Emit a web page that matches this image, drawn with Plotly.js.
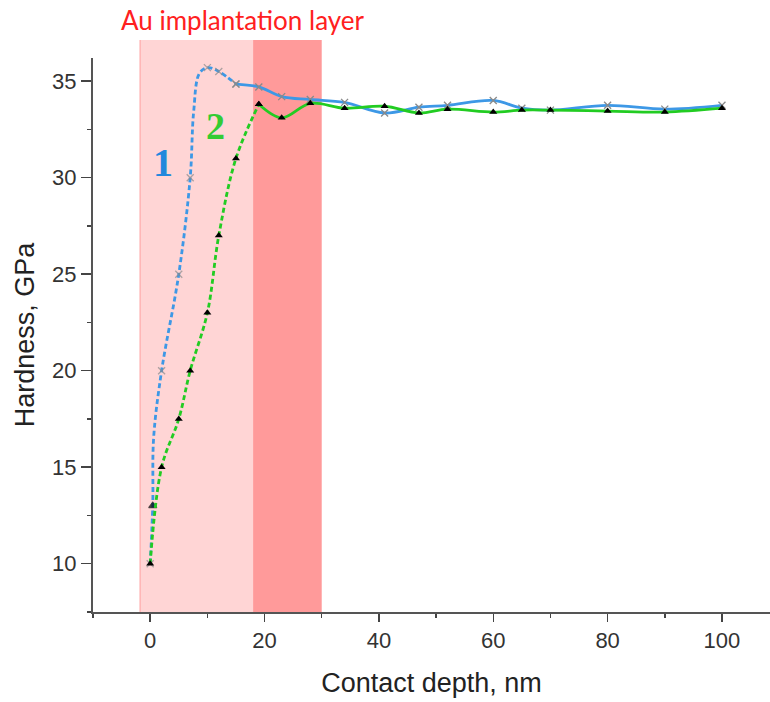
<!DOCTYPE html>
<html>
<head>
<meta charset="utf-8">
<script src="https://cdn.plot.ly/plotly-3.0.1.min.js"></script>
<style>html,body{margin:0;padding:0;background:#fff;}#chart{width:770px;height:702px;}</style>
</head>
<body>
<div id="chart"></div>
<script>
// Curve 1 (blue) – dashed part then solid part
const blueDashX = [0, 0.45, 0.6, 2, 5, 7, 7.6, 8.6, 10, 12, 15];
const blueDashY = [10, 13, 16.5, 20, 25, 30, 33.4, 35.4, 35.7, 35.5, 34.85];
const blueDashMarked = [1, 1, 0, 1, 1, 1, 0, 0, 1, 1, 1];
const blueSolidX = [15, 19, 23, 28, 34, 41, 47, 52, 60, 65, 70, 80, 90, 100];
const blueSolidY = [34.85, 34.7, 34.2, 34.05, 33.9, 33.35, 33.65, 33.75, 34.0, 33.6, 33.5, 33.75, 33.55, 33.75];
// Curve 2 (green) – dashed part then solid part
const greenDashX = [0, 2, 5, 7, 10, 12, 15, 19];
const greenDashY = [10, 15, 17.5, 20, 23, 27, 31, 33.8];
const greenSolidX = [19, 23, 28, 34, 41, 47, 52, 60, 65, 70, 80, 90, 100];
const greenSolidY = [33.8, 33.1, 33.85, 33.6, 33.7, 33.35, 33.55, 33.4, 33.5, 33.5, 33.45, 33.4, 33.6];
// Implantation layer zones
const zoneLight = [-1.75, 18];
const zoneDark = [18, 30];
const xTickVals = [0, 20, 40, 60, 80, 100];
const yTickVals = [10, 15, 20, 25, 30, 35];

const blue = '#3d98e6';
const green = '#22cc22';
const xMarker = {symbol: 'x-thin-open', size: 7, color: '#8a8a8a', line: {color: '#8a8a8a', width: 1.3}};
const triMarker = {symbol: 'triangle-up', size: 7, color: '#000'};
const blueDashSym = blueDashX.map((v, i) => i === 1 ? 'triangle-up' : 'x-thin-open');
const blueDashCol = blueDashX.map((v, i) => i === 1 ? '#000' : '#8a8a8a');
const blueDashSize = blueDashMarked.map(m => m ? 7 : 0);

const traces = [
  {x: blueDashX, y: blueDashY, mode: 'lines+markers', line: {color: blue, width: 2.8, dash: '5px,3px', shape: 'spline', smoothing: 1},
   marker: {symbol: blueDashSym, size: blueDashSize, color: blueDashCol, line: {color: blueDashCol, width: 1.3}}},
  {x: blueSolidX, y: blueSolidY, mode: 'lines+markers', line: {color: blue, width: 2.8, shape: 'spline', smoothing: 1}, marker: xMarker},
  {x: greenDashX, y: greenDashY, mode: 'lines+markers', line: {color: green, width: 2.8, dash: '5px,3px', shape: 'spline', smoothing: 1}, marker: triMarker},
  {x: greenSolidX, y: greenSolidY, mode: 'lines+markers', line: {color: green, width: 2.8, shape: 'spline', smoothing: 1}, marker: triMarker}
];

const font = "'Liberation Sans', Arial, sans-serif";
const layout = {
  width: 770, height: 702,
  margin: {l: 93, r: 0, t: 58, b: 90},
  paper_bgcolor: '#fff', plot_bgcolor: 'rgba(0,0,0,0)',
  showlegend: false,
  font: {family: font, color: '#333'},
  xaxis: {
    range: [-10, 108.4], tickvals: xTickVals, ticks: 'outside', ticklen: 8, tickwidth: 1.5, tickcolor: '#444',
    minor: {dtick: 10, tick0: 0, ticks: 'outside', ticklen: 4, tickwidth: 1.5, tickcolor: '#444'},
    showline: true, linecolor: '#555', linewidth: 2, showgrid: false, zeroline: false,
    tickfont: {size: 22, color: '#333', family: font},
    title: {text: 'Contact depth, nm', font: {size: 27, color: '#222', family: font}, standoff: 21}
  },
  yaxis: {
    range: [7.5, 36.2], tickvals: yTickVals, ticks: 'outside', ticklen: 10, tickwidth: 1.5, tickcolor: '#444',
    minor: {dtick: 2.5, tick0: 0, ticks: 'outside', ticklen: 4, tickwidth: 1.5, tickcolor: '#444'},
    showline: true, linecolor: '#555', linewidth: 2, showgrid: false, zeroline: false,
    tickfont: {size: 22, color: '#333', family: font},
    title: {text: 'Hardness, GPa', font: {size: 27, color: '#222', family: font}, standoff: 10}
  },
  shapes: [
    {type: 'rect', layer: 'below', xref: 'x', yref: 'paper', x0: zoneLight[0], x1: zoneLight[1], y0: 0, y1: 1.0325,
     fillcolor: '#ffd5d5', line: {width: 0}},
    {type: 'line', layer: 'below', xref: 'x', yref: 'paper', x0: zoneLight[0], x1: zoneLight[0], y0: 0, y1: 1.0325,
     line: {color: '#ffb4b4', width: 1.5}},
    {type: 'rect', layer: 'below', xref: 'x', yref: 'paper', x0: zoneDark[0], x1: zoneDark[1], y0: 0, y1: 1.0325,
     fillcolor: '#ff9a9a', line: {width: 0}}
  ],
  annotations: [
    {text: 'Au implantation layer', xref: 'x', yref: 'paper', x: 16.3, y: 1.0686, xanchor: 'center', yanchor: 'middle',
     showarrow: false, font: {family: 'Lato, "Open Sans", sans-serif', size: 26, color: '#ff2020'}},
    {text: '<b>1</b>', xref: 'x', yref: 'y', x: 2.3, y: 30.8, xanchor: 'center', yanchor: 'middle', showarrow: false,
     font: {family: "'Liberation Serif', 'Times New Roman', serif", size: 40, color: '#2288dd'}},
    {text: '<b>2</b>', xref: 'x', yref: 'y', x: 11.4, y: 32.7, xanchor: 'center', yanchor: 'middle', showarrow: false,
     font: {family: "'Liberation Serif', 'Times New Roman', serif", size: 38, color: '#33cc33'}}
  ]
};

Plotly.newPlot('chart', traces, layout, {displayModeBar: false, staticPlot: true});
</script>
</body>
</html>
